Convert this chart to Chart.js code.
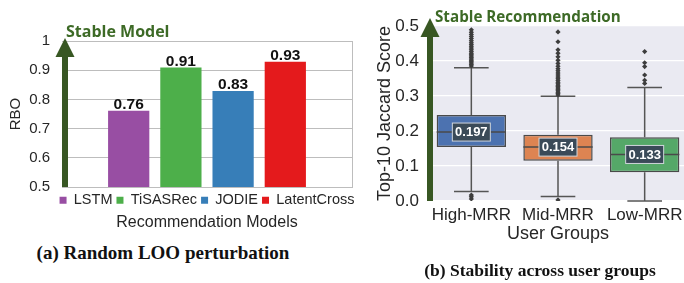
<!DOCTYPE html>
<html>
<head>
<meta charset="utf-8">
<script src="https://cdn.jsdelivr.net/npm/chart.js@4.4.1/dist/chart.umd.min.js"></script>
<style>
  html, body { margin: 0; padding: 0; background: #fff; overflow: hidden; }
  body { width: 684px; height: 283px; position: relative; }
  .box { position: absolute; }
  #boxA { left: 0; top: 0; width: 414px; height: 240px; }
  #boxB { left: 342px; top: 0; width: 350px; height: 253px; }
  .caption { position: absolute; font-family: 'Liberation Serif', serif; font-weight: bold; color: #111; white-space: nowrap; transform: translate(-50%, -50%); }
</style>
</head>
<body>
<div class="box" id="boxA"><canvas id="chartA"></canvas></div>
<div class="box" id="boxB"><canvas id="chartB"></canvas></div>
<div class="caption" style="left:163px; top:253px; font-size:19px">(a) Random LOO perturbation</div>
<div class="caption" style="left:540px; top:270px; font-size:17.5px">(b) Stability across user groups</div>
<script>
// (a) RBO per model
const models = ['LSTM', 'TiSASRec', 'JODIE', 'LatentCross'];
const rbo = [0.761, 0.909, 0.829, 0.929];
const modelColors = ['#984EA3', '#4DAF4A', '#377EB8', '#E41A1C'];
const rboTicks = [0.5, 0.6, 0.7, 0.8, 0.9, 1];

// (b) Jaccard score box plots per user group
const groups = ['High-MRR', 'Mid-MRR', 'Low-MRR'];
const q1 = [0.154, 0.115, 0.082];
const q3 = [0.246, 0.189, 0.182];
const medians = [0.197, 0.154, 0.133];
const whiskerLow = [0.027, 0.013, 0.0];
const whiskerHigh = [0.381, 0.299, 0.324];
const highOutliers = [0.386, 0.39, 0.394, 0.398, 0.402, 0.406, 0.41, 0.414, 0.418, 0.422, 0.427, 0.432, 0.437, 0.442, 0.447, 0.452, 0.458, 0.464, 0.47, 0.476, 0.482, 0.489, 0.017, 0.012, 0.006];
const midOutliers = [0.303, 0.307, 0.311, 0.315, 0.319, 0.323, 0.327, 0.331, 0.335, 0.339, 0.344, 0.349, 0.354, 0.36, 0.366, 0.372, 0.378, 0.385, 0.393, 0.402, 0.412, 0.422, 0.432, 0.455, 0.483, 0.003];
const lowOutliers = [0.336, 0.345, 0.36, 0.384, 0.395, 0.427];
const groupColors = ['#4C72B0', '#DD8452', '#55A868'];
const jaccardTicks = [0, 0.1, 0.2, 0.3, 0.4, 0.5];

Chart.defaults.font.family = "'Liberation Sans', Arial, sans-serif";
Chart.defaults.color = '#262626';

// green "stable" arrow along the y axis
function stableArrow(id, text, fontSize, shaftDx, headRise, textDx) {
    return {
        id: id,
        afterDraw(chart) {
            const ctx = chart.ctx;
            const a = chart.chartArea;
            const cx = a.left + shaftDx;
            const tipY = a.top - headRise;
            const baseY = tipY + 19;
            ctx.save();
            ctx.fillStyle = '#385723';
            ctx.fillRect(cx - 3, baseY - 1, 6, a.bottom + 1 - baseY);
            ctx.beginPath();
            ctx.moveTo(cx, tipY);
            ctx.lineTo(cx + 9.5, baseY);
            ctx.lineTo(cx - 9.5, baseY);
            ctx.closePath();
            ctx.fill();
            ctx.font = 'bold ' + fontSize + "px 'Open Sans', sans-serif";
            ctx.fillStyle = '#3d6a26';
            ctx.textBaseline = 'alphabetic';
            ctx.fillText(text, cx + textDx, a.top - 4);
            ctx.restore();
        }
    };
}

const barValueLabels = {
    id: 'barValueLabels',
    afterDatasetsDraw(chart) {
        const ctx = chart.ctx;
        ctx.save();
        ctx.font = "bold 15.5px 'Liberation Sans', Arial, sans-serif";
        ctx.fillStyle = '#111';
        ctx.textAlign = 'center';
        chart.data.datasets.forEach((ds, i) => {
            const bar = chart.getDatasetMeta(i).data[0];
            ctx.fillText(ds.data[0].toFixed(2), bar.x, bar.y - 6);
        });
        ctx.restore();
    }
};

new Chart(document.getElementById('chartA'), {
    type: 'bar',
    data: {
        labels: [''],
        datasets: models.map((m, i) => ({
            label: m,
            data: [rbo[i]],
            backgroundColor: modelColors[i],
            barPercentage: 0.79,
            categoryPercentage: 0.72
        }))
    },
    options: {
        responsive: true,
        maintainAspectRatio: false,
        animation: false,
        layout: { padding: { top: 41, left: 0, right: 0, bottom: 8.3 } },
        plugins: {
            tooltip: { enabled: false },
            legend: {
                position: 'bottom',
                labels: { boxWidth: 7, boxHeight: 7, padding: 4, font: { size: 14.5 }, color: '#262626' }
            },
            title: {
                display: true,
                position: 'bottom',
                text: 'Recommendation Models',
                font: { size: 16, weight: 'normal' },
                color: '#262626',
                padding: { top: -5, bottom: 0 }
            }
        },
        scales: {
            x: {
                grid: { display: false, drawTicks: false },
                ticks: { display: false },
                border: { display: false },
                afterFit: s => { s.height = 2; }
            },
            y: {
                min: 0.5,
                max: 1,
                afterBuildTicks: s => { s.ticks = rboTicks.map(v => ({ value: v })); },
                ticks: { font: { size: 15 }, color: '#262626', padding: 12, callback: v => String(Math.round(v * 10) / 10) },
                grid: { color: '#bdbdbd', drawTicks: false },
                border: { display: false },
                title: { display: true, text: 'RBO', font: { size: 15 }, color: '#262626', padding: { top: 7, bottom: 0 } },
                afterFit: s => { s.width = 62; }
            },
            y1: {
                position: 'right',
                grid: { display: false, drawTicks: false },
                ticks: { display: false },
                border: { display: true, color: '#bdbdbd' },
                afterFit: s => { s.width = 62; }
            }
        }
    },
    plugins: [barValueLabels, stableArrow('arrowA', 'Stable Model', 16, 3, 3, 1)]
});

// seaborn-like box plot pieces drawn from the box values
const plotBackground = {
    id: 'plotBackground',
    beforeDraw(chart) {
        const a = chart.chartArea;
        chart.ctx.save();
        chart.ctx.fillStyle = '#EAEAF2';
        chart.ctx.fillRect(a.left, a.top, a.right - a.left, a.bottom - a.top);
        chart.ctx.restore();
    }
};

const boxParts = {
    id: 'boxParts',
    beforeDatasetsDraw(chart) {
        const ctx = chart.ctx;
        const y = chart.scales.y;
        const meta = chart.getDatasetMeta(0);
        ctx.save();
        ctx.strokeStyle = '#555';
        ctx.lineWidth = 1.5;
        meta.data.forEach((bar, i) => {
            const cap = bar.width / 4;
            const yHi = y.getPixelForValue(whiskerHigh[i]);
            const yLo = y.getPixelForValue(whiskerLow[i]);
            ctx.beginPath();
            ctx.moveTo(bar.x, y.getPixelForValue(q3[i]));
            ctx.lineTo(bar.x, yHi);
            ctx.moveTo(bar.x, y.getPixelForValue(q1[i]));
            ctx.lineTo(bar.x, yLo);
            ctx.moveTo(bar.x - cap, yHi);
            ctx.lineTo(bar.x + cap, yHi);
            ctx.moveTo(bar.x - cap, yLo);
            ctx.lineTo(bar.x + cap, yLo);
            ctx.stroke();
        });
        ctx.restore();
    },
    afterDatasetsDraw(chart) {
        const ctx = chart.ctx;
        const y = chart.scales.y;
        const meta = chart.getDatasetMeta(0);
        ctx.save();
        meta.data.forEach((bar, i) => {
            const ym = y.getPixelForValue(medians[i]);
            ctx.strokeStyle = '#4a4a4a';
            ctx.lineWidth = 1.5;
            ctx.beginPath();
            ctx.moveTo(bar.x - bar.width / 2, ym);
            ctx.lineTo(bar.x + bar.width / 2, ym);
            ctx.stroke();
            ctx.fillStyle = '#3a4a58';
            ctx.fillRect(bar.x - 19, ym - 9, 38, 18);
            ctx.strokeStyle = '#d0d6dc';
            ctx.lineWidth = 1;
            ctx.strokeRect(bar.x - 19, ym - 9, 38, 18);
            ctx.font = "bold 13px 'Liberation Sans', Arial, sans-serif";
            ctx.fillStyle = '#fff';
            ctx.textAlign = 'center';
            ctx.textBaseline = 'middle';
            ctx.fillText(medians[i].toFixed(3), bar.x, ym + 0.5);
        });
        ctx.restore();
    }
};

const outlierPoints = [highOutliers, midOutliers, lowOutliers]
    .flatMap((list, i) => list.map(v => ({ x: groups[i], y: v })));

new Chart(document.getElementById('chartB'), {
    type: 'bar',
    data: {
        labels: groups,
        datasets: [{
            type: 'bar',
            data: groups.map((g, i) => [q1[i], q3[i]]),
            backgroundColor: groupColors,
            borderColor: '#4a4a4a',
            borderWidth: 1.5,
            borderSkipped: false,
            barPercentage: 0.8,
            categoryPercentage: 1,
            order: 2
        }, {
            type: 'scatter',
            data: outlierPoints,
            pointStyle: 'rectRot',
            radius: 2.6,
            backgroundColor: '#3d3d3d',
            borderWidth: 0,
            order: 1
        }]
    },
    options: {
        responsive: true,
        maintainAspectRatio: false,
        animation: false,
        layout: { padding: { top: 26, left: 0, right: 3, bottom: 0 } },
        plugins: { legend: { display: false }, tooltip: { enabled: false } },
        scales: {
            x: {
                type: 'category',
                grid: { display: false, drawTicks: false },
                border: { display: false },
                ticks: { font: { size: 17 }, color: '#262626', padding: 4, maxRotation: 0 },
                title: { display: true, text: 'User Groups', font: { size: 18 }, color: '#262626', padding: { top: 0, bottom: 8 } },
                afterFit: s => { s.height = 52; }
            },
            y: {
                min: 0,
                max: 0.5,
                afterBuildTicks: s => { s.ticks = jaccardTicks.map(v => ({ value: v })); },
                ticks: { font: { size: 17 }, color: '#262626', padding: 9, callback: v => v.toFixed(1) },
                grid: { color: '#ffffff', lineWidth: 1.3, drawTicks: false },
                border: { display: false },
                title: { display: true, text: 'Top-10 Jaccard Score', font: { size: 18 }, color: '#262626', padding: { top: 32, bottom: 0 } },
                afterFit: s => { s.width = 86; }
            }
        }
    },
    plugins: [plotBackground, boxParts, stableArrow('arrowB', 'Stable Recommendation', 15.2, 2, 8, 5)]
});
</script>
</body>
</html>
